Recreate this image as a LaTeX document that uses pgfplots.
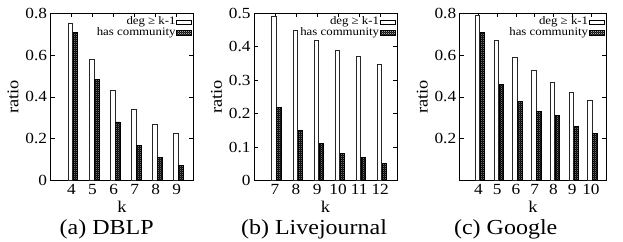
\documentclass[border=0pt]{standalone}
\usepackage{pgfplots}
\pgfplotsset{compat=1.18}
\usepackage{fontspec}
\setmainfont{Liberation Serif}[FakeStretch=1.12]
\usetikzlibrary{patterns.meta}
\tikzdeclarepattern{
  name=fdots,
  type=uncolored,
  bottom left={(0bp,0bp)},
  top right={(2.2bp,2.2bp)},
  tile size={(2.2bp,2.2bp)},
  code={
    \fill (0bp,0bp) rectangle (0.8bp,0.8bp);
    \fill (1.1bp,1.1bp) rectangle (1.9bp,1.9bp);
  }
}
\pgfplotsset{
  rb/.style={
    scale only axis,
    height=167.2bp,
    ymin=0,
    axis line style={line width=0.9bp},
    major tick length=4bp,
    tick style={line width=0.7bp, black},
    tick label style={font=\fontsize{15.5}{15.5}\selectfont},
    label style={font=\fontsize{16.5}{16.5}\selectfont},
    /pgf/number format/assume math mode=true,
    xlabel={k},
    ylabel={ratio},
    legend style={at={(1,1)}, anchor=north east, xshift=-1.5bp, yshift=-3.5bp,
      draw=none, fill=none, inner sep=0pt, row sep=0pt,
      font=\fontsize{11.5}{11.5}\selectfont,
      nodes={inner sep=0.6bp, text height=7bp, text depth=2.2bp}},
    legend plot pos=right,
    legend cell align=right,
  },
  wbar/.style={ybar, bar width=4.5bp, bar shift=-1bp, fill=white, draw=black!85, line width=0.6bp,
    legend image code/.code={\draw[fill=white, draw=black, line width=0.6bp] (0bp,-2.3bp) rectangle (15bp,2.3bp);}},
  dbar/.style={ybar, bar width=4.5bp, bar shift=4bp, fill=black, draw=black, line width=0.6bp,
    postaction={pattern=fdots, pattern color=white},
    legend image code/.code={\draw[fill=black, draw=black, line width=0.6bp, postaction={pattern=fdots, pattern color=white}] (0bp,-2.3bp) rectangle (15bp,2.3bp);}},
}
\begin{document}
\begin{tikzpicture}
\useasboundingbox (0,0) rectangle (623bp,242bp);
% (a) DBLP
\begin{axis}[rb, at={(50.5bp,61.5bp)}, anchor=south west, width=143bp,
  xmin=3, xmax=9.8, ymax=0.8, xtick={4,5,6,7,8,9}, ytick={0,0.2,0.4,0.6,0.8}]
\addplot[wbar] coordinates {(4,0.75) (5,0.58) (6,0.43) (7,0.34) (8,0.27) (9,0.225)};
\addplot[dbar] coordinates {(4,0.71) (5,0.485) (6,0.28) (7,0.168) (8,0.112) (9,0.072)};
\legend{deg ≥ k-1, has community}
\end{axis}
% (b) Livejournal
\begin{axis}[rb, at={(254bp,61.5bp)}, anchor=south west, width=143bp,
  xmin=6, xmax=12.8, ymax=0.5, xtick={7,8,9,10,11,12}, ytick={0,0.1,0.2,0.3,0.4,0.5}]
\addplot[wbar] coordinates {(7,0.49) (8,0.45) (9,0.42) (10,0.39) (11,0.37) (12,0.348)};
\addplot[dbar] coordinates {(7,0.218) (8,0.151) (9,0.112) (10,0.080) (11,0.068) (12,0.050)};
\legend{deg ≥ k-1, has community}
\end{axis}
% (c) Google
\begin{axis}[rb, at={(459.7bp,61.5bp)}, anchor=south west, width=146.3bp,
  xmin=3, xmax=10.8, ymax=0.8, xtick={4,5,6,7,8,9,10}, ytick={0.2,0.4,0.6,0.8}]
\addplot[wbar] coordinates {(4,0.79) (5,0.672) (6,0.59) (7,0.525) (8,0.47) (9,0.423) (10,0.382)};
\addplot[dbar] coordinates {(4,0.71) (5,0.46) (6,0.38) (7,0.332) (8,0.31) (9,0.259) (10,0.224)};
\legend{deg ≥ k-1, has community}
\end{axis}
\node[anchor=base, font=\fontsize{21.5}{21.5}\selectfont] at (106.7bp,8bp) {(a) DBLP};
\node[anchor=base, font=\fontsize{21.5}{21.5}\selectfont] at (314bp,8bp) {(b) Livejournal};
\node[anchor=base, font=\fontsize{21.5}{21.5}\selectfont] at (505.7bp,8bp) {(c) Google};
\end{tikzpicture}
\end{document}
